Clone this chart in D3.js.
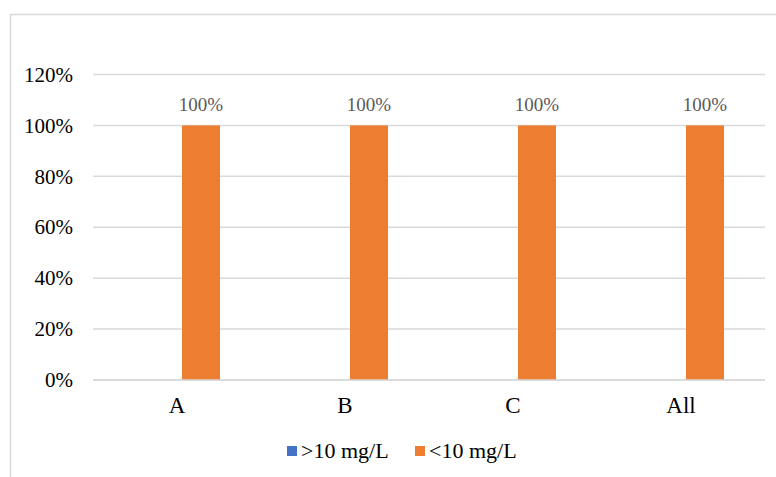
<!DOCTYPE html>
<html>
<head>
<meta charset="utf-8">
<script src="https://cdn.jsdelivr.net/npm/d3@7"></script>
<style>
  body { margin: 0; background: #fff; }
  text { font-family: "Liberation Serif", "Times New Roman", serif; }
</style>
</head>
<body>
<div class="chart"></div>
<script>
var svgWidth = 776;
var svgHeight = 477;

// data
var categories = ["A", "B", "C", "All"];
var seriesNames = [">10 mg/L", "<10 mg/L"];
var seriesColors = ["#4472c4", "#ed7d31"];
var above10 = [0, 0, 0, 0];
var below10 = [1, 1, 1, 1];
var yTicks = [0, 0.2, 0.4, 0.6, 0.8, 1.0, 1.2];

var rows = categories.map(function (c, i) {
  return { cat: c, values: [above10[i], below10[i]] };
});

var svg = d3.select(".chart")
  .append("svg")
  .attr("width", svgWidth)
  .attr("height", svgHeight);

// chart frame
svg.append("rect")
  .attr("x", 10.5).attr("y", 14.5)
  .attr("width", 780).attr("height", 480)
  .attr("fill", "none")
  .attr("stroke", "#d9d9d9")
  .attr("stroke-width", 1.5);

var x0 = d3.scaleBand()
  .domain(categories)
  .range([93, 765]);

var x1 = d3.scaleBand()
  .domain(d3.range(seriesNames.length))
  .range([51, 127]);

var y = d3.scaleLinear()
  .domain([0, 1.2])
  .range([380, 74.5]);

// gridlines
svg.append("g")
  .selectAll("line")
  .data(yTicks)
  .enter()
  .append("line")
  .attr("x1", 93).attr("x2", 765)
  .attr("y1", function (d) { return y(d); })
  .attr("y2", function (d) { return y(d); })
  .attr("stroke", "#d9d9d9")
  .attr("stroke-width", 1.5);

// y axis labels
var leftAxis = d3.axisLeft(y)
  .tickValues(yTicks)
  .tickFormat(d3.format(".0%"))
  .tickSize(0)
  .tickPadding(0);

svg.append("g")
  .attr("transform", "translate(73,0)")
  .call(leftAxis)
  .call(function (g) { g.select(".domain").remove(); })
  .selectAll("text")
  .attr("font-size", "21px")
  .attr("font-family", "Liberation Serif")
  .attr("fill", "#000");

// x axis labels
var bottomAxis = d3.axisBottom(x0).tickSize(0).tickPadding(0);
svg.append("g")
  .attr("transform", "translate(0,397)")
  .call(bottomAxis)
  .call(function (g) { g.select(".domain").remove(); })
  .selectAll("text")
  .attr("font-size", "23px")
  .attr("font-family", "Liberation Serif")
  .attr("fill", "#000");

// bars
var groups = svg.append("g")
  .selectAll("g")
  .data(rows)
  .enter()
  .append("g")
  .attr("transform", function (d) { return "translate(" + x0(d.cat) + ",0)"; });

groups.selectAll("rect")
  .data(function (d) { return d.values; })
  .enter()
  .append("rect")
  .attr("x", function (d, i) { return x1(i); })
  .attr("width", x1.bandwidth())
  .attr("y", function (d) { return y(d); })
  .attr("height", function (d) { return y(0) - y(d); })
  .attr("fill", function (d, i) { return seriesColors[i]; });

// data labels for non-zero values
groups.selectAll("text")
  .data(function (d) { return d.values; })
  .enter()
  .filter(function (d) { return d > 0; })
  .append("text")
  .attr("x", function (d, i) { return x1(1) + x1.bandwidth() / 2; })
  .attr("y", function (d) { return y(d) - 14; })
  .attr("text-anchor", "middle")
  .attr("font-size", "19px")
  .attr("fill", "#595959")
  .text(function (d) { return d3.format(".0%")(d); });

// zero line on top
svg.append("line")
  .attr("x1", 93).attr("x2", 765)
  .attr("y1", y(0)).attr("y2", y(0))
  .attr("stroke", "#d9d9d9")
  .attr("stroke-width", 1.5);

// legend
var legendX = [287, 415];
var legend = svg.append("g")
  .selectAll("g")
  .data(seriesNames)
  .enter()
  .append("g")
  .attr("transform", function (d, i) { return "translate(" + legendX[i] + ",446)"; });

legend.append("rect")
  .attr("width", 10).attr("height", 10)
  .attr("fill", function (d, i) { return seriesColors[i]; });

legend.append("text")
  .attr("x", 14)
  .attr("y", 12)
  .attr("font-size", "22px")
  .attr("fill", "#000")
  .text(function (d) { return d; });
</script>
</body>
</html>
